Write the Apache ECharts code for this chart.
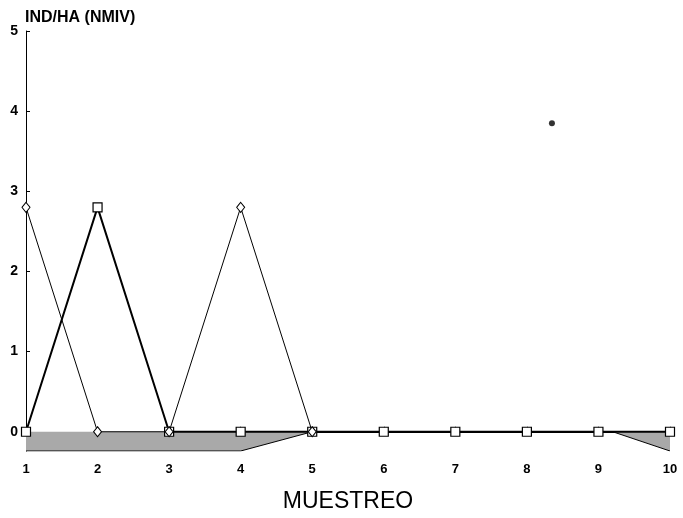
<!DOCTYPE html>
<html>
<head>
<meta charset="utf-8">
<script src="https://cdn.jsdelivr.net/npm/echarts@6/dist/echarts.min.js"></script>
<style>html,body{margin:0;padding:0;background:#fff;}#c{width:683px;height:518px;}</style>
</head>
<body>
<div id="c"></div>
<script>
var muestreo = [1, 2, 3, 4, 5, 6, 7, 8, 9, 10];
var serieDiamante = [2.8, 0, 0, 2.8, 0];
var serieCuadrado = [0, 2.8, 0, 0, 0, 0, 0, 0, 0, 0];
var sombraX = [1, 4, 5, 9.2, 10];
var sombraY = [-0.24, -0.24, 0, 0, -0.24];
var punto = [[8.35, 3.85]];
var yTicks = [0, 1, 2, 3, 4, 5];

function pares(xs, ys) { return ys.map(function (y, i) { return [xs[i], y]; }); }

var chart = echarts.init(document.getElementById('c'), null, { renderer: 'canvas' });
var font = 'Liberation Sans, Arial, sans-serif';
chart.setOption({
  animation: false,
  backgroundColor: '#fff',
  grid: { left: 26, right: 13, top: 31, bottom: 67, containLabel: false, outerBoundsMode: 'none' },
  title: {
    text: 'IND/HA (NMIV)', left: 20, top: 5,
    textStyle: { fontFamily: font, fontSize: 16, fontWeight: 'bold', color: '#000' }
  },
  xAxis: {
    type: 'value', min: 1, max: 10, interval: 1,
    name: 'MUESTREO', nameLocation: 'middle', nameGap: 39,
    nameTextStyle: { fontFamily: font, fontSize: 23, color: '#000' },
    axisLine: { lineStyle: { color: '#000', width: 1 } },
    axisTick: { inside: true, length: 5, lineStyle: { color: '#000' } },
    axisLabel: { fontFamily: font, fontSize: 13, fontWeight: 'bold', color: '#000', margin: 12 },
    splitLine: { show: false }
  },
  yAxis: {
    type: 'value', min: -0.24, max: 5,
    axisLine: { show: true, lineStyle: { color: '#000', width: 1 } },
    axisTick: { show: true, inside: true, length: 4, customValues: yTicks, lineStyle: { color: '#000' } },
    axisLabel: { customValues: yTicks, fontFamily: font, fontSize: 14, fontWeight: 'bold', color: '#000', margin: 8 },
    splitLine: { show: false }
  },
  series: [
    {
      type: 'line', data: pares(sombraX, sombraY), symbol: 'none', z: 1,
      lineStyle: { color: '#000', width: 1 },
      areaStyle: { origin: 0, color: '#a9a9a9', opacity: 1 }
    },
    {
      type: 'line', data: pares(muestreo, serieCuadrado), symbol: 'rect', symbolSize: 9, z: 3,
      lineStyle: { color: '#000', width: 2 },
      itemStyle: { color: '#fff', borderColor: '#000', borderWidth: 1.2 }
    },
    {
      type: 'line', data: pares(muestreo, serieDiamante), symbol: 'diamond', symbolSize: [8, 10], z: 4,
      lineStyle: { color: '#000', width: 1 },
      itemStyle: { color: '#fff', borderColor: '#000', borderWidth: 1 }
    },
    {
      type: 'scatter', data: punto, symbol: 'circle', symbolSize: 6, z: 5,
      itemStyle: { color: '#000' }
    }
  ]
});
</script>
</body>
</html>
